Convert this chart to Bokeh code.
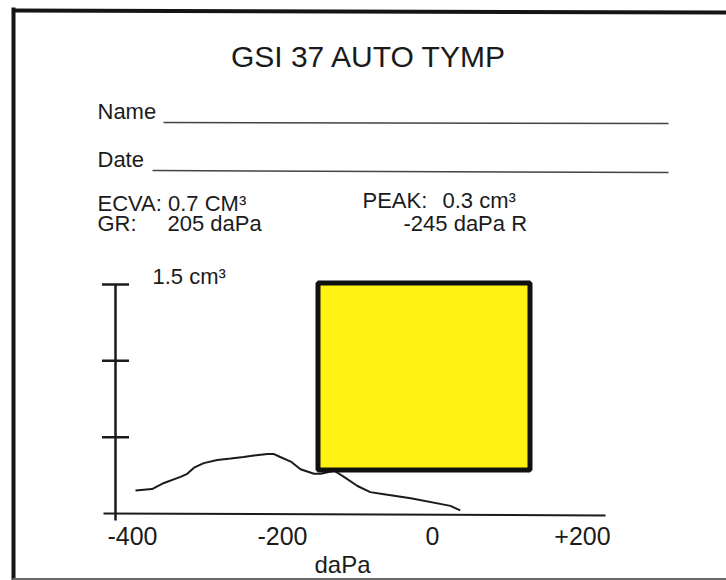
from bokeh.plotting import figure
from bokeh.models import Range1d, Label, BoxAnnotation
from bokeh.core.properties import value
from bokeh.embed import file_html
from bokeh.resources import INLINE

# ---------------- data ----------------
pressure_dapa = [-396, -374, -358, -336, -327, -318, -305, -287, -269, -252, -238,
                 -220, -212, -203, -189, -176, -158, -149, -131, -118, -100, -83,
                 -69, -29, 24, 37]
compliance_cm3 = [0.15, 0.16, 0.20, 0.24, 0.26, 0.30, 0.33, 0.35, 0.36, 0.37, 0.38,
                  0.39, 0.39, 0.37, 0.34, 0.29, 0.26, 0.26, 0.28, 0.24, 0.18, 0.14,
                  0.13, 0.10, 0.05, 0.02]
x_tick_values = [-400, -200, 0, 200]
x_tick_labels = ["-400", "-200", "0", "+200"]
y_tick_values = [0.5, 1.0, 1.5]
y_max_label = "1.5 cm³"
title_text = "GSI 37 AUTO TYMP"
ecva_text = "ECVA: 0.7 CM³"
gr_label, gr_value = "GR:", "205 daPa"
peak_label, peak_value = "PEAK:", "0.3 cm³"
peak_pressure = "-245 daPa R"

# ---------------- page geometry (page pixels -> data) ----------------
X0, SX = 432.0, 0.75      # page x of 0 daPa, px per daPa
Y0, SY = 513.0, 152.7     # page y of 0 cm3, px per cm3
W, H = 726, 580
LEFT, TOP = 0, 0
BASE_SHIFT = 0.4          # text renders this many em below its anchor


def dx(X):
    return (X - X0) / SX


def dy(Y):
    return (Y0 - Y) / SY


def ty(Y, size):
    return dy(Y - BASE_SHIFT * size)


FONT = "Liberation Sans"
INK = "#1b1b1b"

p = figure(width=W, height=H,
           x_range=Range1d(dx(LEFT), dx(LEFT + W)),
           y_range=Range1d(dy(TOP + H), dy(TOP)),
           toolbar_location=None, output_backend="svg",
           x_axis_location=None, y_axis_location=None,
           min_border=0)
p.min_border_left = p.min_border_right = p.min_border_top = p.min_border_bottom = 0
p.outline_line_color = None
p.background_fill_color = "white"
p.border_fill_color = "white"
p.xgrid.visible = False
p.ygrid.visible = False

# page frame lines
p.line([dx(12), dx(LEFT + W)], [dy(10), dy(12)], line_color="#141414", line_width=4)
p.line([dx(13), dx(13)], [dy(TOP + 7), dy(TOP + H)], line_color="#141414", line_width=4)
p.line([dx(12), dx(LEFT + W)], [dy(578.5), dy(578.5)], line_color="#6a6a6a", line_width=2)

# header texts
def add_label(txt, X, Y, size, align="left"):
    p.add_layout(Label(x=dx(X), y=ty(Y, size), text=txt, text_font=FONT,
                       text_font_size=f"{size}px", text_color=INK,
                       text_align=align, text_baseline="alphabetic"))

add_label(title_text, 368.5, 68, 30, "center")
add_label("Name", 97, 120, 22)
add_label("Date", 97, 168, 22)
p.line([dx(163), dx(668)], [dy(122), dy(123)], line_color="#444", line_width=1.5)
p.line([dx(152), dx(668)], [dy(170), dy(172)], line_color="#444", line_width=1.5)
add_label(ecva_text, 97, 212, 22)
add_label(gr_label, 97, 232, 22)
add_label(gr_value, 167, 232, 22)
add_label(peak_label, 362, 209, 22)
add_label(peak_value, 442, 209, 22)
add_label(peak_pressure, 403, 232, 22)

# chart axes
y_axis_x = dx(115)
tick_half = 18
p.line([y_axis_x, y_axis_x], [dy(520), max(y_tick_values)], line_color=INK, line_width=2.5)
p.segment(x0=[y_axis_x - tick_half] * len(y_tick_values), y0=y_tick_values,
          x1=[y_axis_x + tick_half] * len(y_tick_values), y1=y_tick_values,
          line_color=INK, line_width=2.5)
p.line([dx(103), dx(605)], [0, dy(515)], line_color=INK, line_width=2)

p.text(x=x_tick_values, y=[ty(545, 25)] * len(x_tick_values), text=x_tick_labels,
       text_font=value(FONT), text_font_size="25px", text_color=INK,
       text_align="center", text_baseline="alphabetic")
add_label(y_max_label, 152, 285, 22)
add_label("daPa", 342, 574, 24, "center")

# tympanogram curve
p.line(pressure_dapa, compliance_cm3, line_color=INK, line_width=2)

# yellow box
p.add_layout(BoxAnnotation(left=dx(317.5), right=dx(529.5), top=dy(282.5), bottom=dy(469.5),
                           fill_color="#FFF212", fill_alpha=1.0,
                           line_color="#111111", line_width=5, line_alpha=1.0))

open("out.html", "w").write(file_html(p, INLINE))
